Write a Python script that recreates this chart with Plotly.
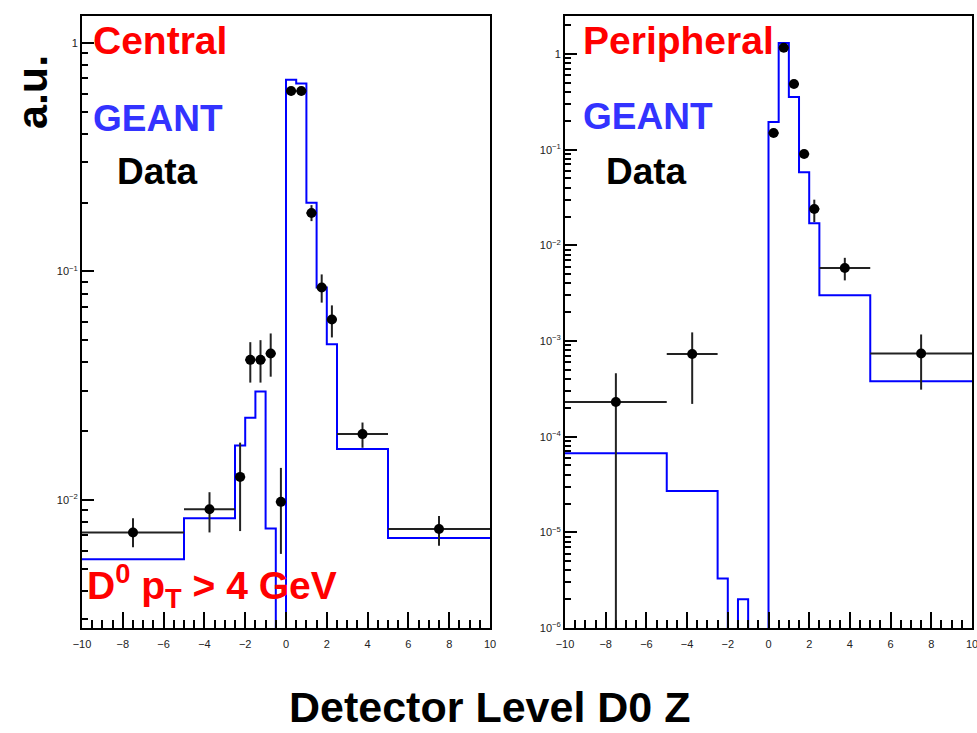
import plotly.graph_objects as go

# ---------------- data ----------------
bin_edges = [-10, -5, -2.5, -2, -1.5, -1, -0.5, 0, 0.5, 1, 1.5, 2, 2.5, 5, 10]

central_geant = [0.0055, 0.0083, 0.0173, 0.0229, 0.0298, 0.0075, 0.0,
                 0.69, 0.665, 0.20, 0.085, 0.048, 0.0167, 0.0068]
central_x = [-7.5, -3.75, -2.25, -1.75, -1.25, -0.75, -0.25, 0.25, 0.75, 1.25, 1.75, 2.25, 3.75, 7.5]
central_xerr = [2.5, 1.25, 0.25, 0.25, 0.25, 0.25, 0.25, 0.25, 0.25, 0.25, 0.25, 0.25, 1.25, 2.5]
central_y = [0.0072, 0.0091, 0.0126, 0.041, 0.041, 0.0437, 0.0098, 0.616, 0.616, 0.18, 0.085, 0.0616, 0.0194, 0.00746]
central_hi = [0.0083, 0.0108, 0.0178, 0.0490, 0.0500, 0.0535, 0.0138, 0.64, 0.64, 0.195, 0.097, 0.071, 0.0218, 0.0085]
central_lo = [0.0062, 0.0072, 0.0073, 0.0326, 0.0326, 0.0346, 0.0058, 0.59, 0.59, 0.166, 0.073, 0.0514, 0.0169, 0.0063]

periph_geant = [6.7e-5, 2.7e-5, 3.3e-6, 0.0, 2.0e-6, 0.0, 0.0,
                0.195, 1.3, 0.355, 0.058, 0.017, 0.003, 3.8e-4]
periph_x = [-7.5, -3.75, 0.25, 0.75, 1.25, 1.75, 2.25, 3.75, 7.5]
periph_xerr = [2.5, 1.25, 0.25, 0.25, 0.25, 0.25, 0.25, 1.25, 2.5]
periph_y = [2.3e-4, 7.3e-4, 0.149, 1.16, 0.485, 0.09, 0.024, 0.0058, 7.4e-4]
periph_hi = [4.6e-4, 1.23e-3, 0.157, 1.2, 0.50, 0.095, 0.030, 0.0074, 1.17e-3]
periph_lo = [0.0, 2.2e-4, 0.141, 1.12, 0.47, 0.085, 0.0175, 0.0043, 3.1e-4]

x_ticks = [-10, -8, -6, -4, -2, 0, 2, 4, 6, 8, 10]

# ---------------- helpers ----------------
FLOOR = 1e-12
BLUE = "#0000ff"
RED = "#ff0000"
FONT = "Liberation Sans"


def hist_xy(edges, vals):
    v = [val if val > 0 else FLOOR for val in vals]
    return list(edges), v + [v[-1]]


def data_trace(x, xerr, y, hi, lo, xa, ya):
    return go.Scatter(
        x=x, y=y, xaxis=xa, yaxis=ya, mode="markers",
        marker=dict(color="black", size=10, symbol="circle"),
        error_x=dict(type="data", array=xerr, symmetric=True, color="#222222",
                     thickness=2, width=0),
        error_y=dict(type="data", array=[h - c for h, c in zip(hi, y)],
                     arrayminus=[c - l for c, l in zip(y, lo)], symmetric=False,
                     color="#222222", thickness=2, width=0),
        showlegend=False, cliponaxis=True, hoverinfo="skip",
    )


fig = go.Figure()

hx, hy = hist_xy(bin_edges, central_geant)
fig.add_trace(go.Scatter(x=hx, y=hy, mode="lines", line=dict(color=BLUE, width=2, shape="hv"),
                         xaxis="x", yaxis="y", showlegend=False, hoverinfo="skip"))
fig.add_trace(data_trace(central_x, central_xerr, central_y, central_hi, central_lo, "x", "y"))

hx, hy = hist_xy(bin_edges, periph_geant)
fig.add_trace(go.Scatter(x=hx, y=hy, mode="lines", line=dict(color=BLUE, width=2, shape="hv"),
                         xaxis="x2", yaxis="y2", showlegend=False, hoverinfo="skip"))
fig.add_trace(data_trace(periph_x, periph_xerr, periph_y, periph_hi, periph_lo, "x2", "y2"))

W, H = 977, 733
ydom = [(H - 628) / H, (H - 16) / H]

tickfont = dict(family=FONT, size=11, color="#222222")


def log_minor(lo_exp, hi_exp):
    vals = []
    for e in range(lo_exp, hi_exp + 1):
        for m in range(2, 10):
            vals.append(m * 10 ** e)
    return vals


def sup_label(e):
    return "1" if e == 0 else "10<sup>\u2212%d</sup>" % (-e)


xcommon = dict(range=[-10, 10], tickmode="array", tickvals=x_ticks, ticks="inside", ticklen=16,
               tickwidth=2, tickcolor="#000000", showline=True, linecolor="black", linewidth=2,
               mirror=True, showgrid=False, zeroline=False, tickfont=tickfont,
               ticklabelstandoff=5, ticklabeloverflow="allow",
               minor=dict(ticks="inside", tickmode="linear", dtick=0.5, tick0=0, ticklen=8,
                          tickwidth=2, tickcolor="#000000", showgrid=False))

ycommon = dict(type="log", tickmode="array", ticks="inside", ticklen=12, tickwidth=2,
               tickcolor="#000000", showline=True, linecolor="black", linewidth=2, mirror=True,
               showgrid=False, zeroline=False, tickfont=tickfont, ticklabeloverflow="allow")

fig.update_layout(
    width=W, height=H, margin=dict(l=0, r=0, t=0, b=0, pad=0, autoexpand=False),
    paper_bgcolor="white", plot_bgcolor="white", hovermode=False, dragmode=False,
    xaxis=dict(domain=[82 / W, 490 / W], anchor="y", **xcommon),
    xaxis2=dict(domain=[565 / W, 972 / W], anchor="y2", **xcommon),
    yaxis=dict(domain=ydom, anchor="x", range=[-2.561, 0.118],
               tickvals=[1, 0.1, 0.01], ticktext=[sup_label(0), sup_label(-1), sup_label(-2)],
               minor=dict(ticks="inside", tickmode="array", tickvals=log_minor(-3, 0), ticklen=6,
                          tickwidth=2, tickcolor="#000000", showgrid=False),
               **ycommon),
    yaxis2=dict(domain=ydom, anchor="x2", range=[-6, 0.397],
                tickvals=[10 ** e for e in range(-6, 1)],
                ticktext=[sup_label(e) for e in range(-6, 1)],
                minor=dict(ticks="inside", tickmode="array", tickvals=log_minor(-6, 0), ticklen=6,
                           tickwidth=2, tickcolor="#000000", showgrid=False),
                **ycommon),
)


def px(x):
    return x / W


def py(y):
    return (H - y) / H


def ann(text, x, y, color, size, xanchor="left", yanchor="middle", angle=0):
    fig.add_annotation(text="<b>%s</b>" % text, x=px(x), y=py(y), xref="paper", yref="paper",
                       xanchor=xanchor, yanchor=yanchor, showarrow=False, textangle=angle,
                       font=dict(family=FONT, size=size, color=color))


ann("Central", 91, 40, RED, 39)
ann("GEANT", 91, 118, "#3333ff", 37)
ann("Data", 115, 171, "black", 37)
ann("D<sup>0</sup> p<sub>T</sub> &gt; 4 GeV", 85, 586, RED, 39)
ann("Peripheral", 581, 40, RED, 39)
ann("GEANT", 581, 117, "#3333ff", 37)
ann("Data", 604, 171, "black", 37)
ann("a.u.", 32, 92, "black", 43, xanchor="center", angle=-90)
ann("Detector Level D0 Z", 490, 733, "black", 43, xanchor="center", yanchor="bottom")

fig.write_html(
    "out.html",
    config={"displayModeBar": False, "staticPlot": True},
    post_script="document.body.style.margin='0';document.body.style.padding='0';"
                "document.body.style.overflow='hidden';",
)
